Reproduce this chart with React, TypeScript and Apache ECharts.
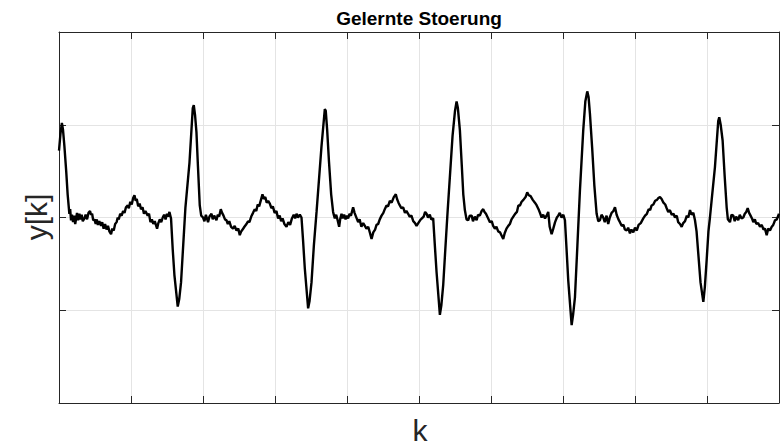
import React, { useEffect, useRef } from "react";
import * as echarts from "echarts";

const titleText = "Gelernte Stoerung";
const xLabel = "k";
const yLabel = "y[k]";
const xRange = [0, 1000];
const xStep = 100;
const yRange = [-2, 2];
const yStep = 1;

// [k, y[k]]
const disturbance: number[][] = [
  [0, 0.72], [2, 0.9], [4, 1.02], [5.5, 0.95], [7.5, 0.77], [10, 0.5], [12, 0.25], [14.4, 0.04], [15.5, 0.09], [16.7, -0.03],
  [18, 0.03], [19.5, -0.05], [21, 0.02], [22.5, -0.07], [23.6, -0.02], [25, 0.05], [26.5, -0.03], [28.3, 0.04], [30, -0.02], [31.5, 0.03],
  [33, -0.04], [35.3, -0.01], [37, 0.03], [39, -0.02], [41, 0.05], [43.1, 0.07], [44.5, 0.03], [46, 0.04], [47.5, -0.03], [49.2, -0.02],
  [51, -0.07], [52.5, -0.02], [54, -0.08], [56, -0.04], [58.4, -0.09], [60, -0.05], [62, -0.12], [64, -0.07], [66, -0.13], [68, -0.09],
  [70, -0.15], [72.3, -0.18], [74, -0.12], [76, -0.14], [78, -0.07], [80, -0.05], [81.6, 0.0], [83, -0.02], [85, 0.04], [87, 0.02],
  [89, 0.07], [91, 0.05], [93, 0.11], [95.5, 0.13], [97, 0.1], [99, 0.17], [101, 0.14], [103, 0.21], [104.8, 0.24], [106.5, 0.18],
  [108, 0.2], [110, 0.12], [112, 0.15], [113.9, 0.09], [116, 0.11], [118, 0.04], [120, 0.07], [123.2, 0.02], [125, 0.04], [127, -0.05],
  [129, -0.02], [131, -0.07], [133, -0.04], [136.2, -0.12], [138, -0.06], [140, -0.02], [142, -0.05], [144.1, 0.0], [146, 0.03], [148, -0.02],
  [150, 0.04], [151.5, 0.01], [153.4, 0.06], [155.6, -0.01], [158, -0.35], [160.3, -0.62], [164.9, -0.96], [167, -0.88], [169.5, -0.7], [172.5, -0.3],
  [175.6, 0.11], [181.2, 0.59], [185.8, 1.18], [187.2, 1.21], [189, 1.1], [190.9, 0.92], [193, 0.55], [195.5, 0.13], [197.5, 0.02], [200.1, 0.0],
  [202, -0.04], [204, 0.03], [207, -0.05], [209, 0.01], [211.8, 0.04], [213.5, -0.02], [215.5, 0.02], [218.7, -0.03], [220.5, 0.03], [222.5, 0.01],
  [224.7, 0.09], [226.5, 0.05], [228.5, 0.02], [230.5, -0.02], [232.6, -0.03], [234.5, -0.07], [236.5, -0.04], [239, -0.1], [241.8, -0.12], [244, -0.09],
  [246.5, -0.14], [249, -0.12], [251.1, -0.19], [253, -0.15], [255, -0.13], [257.5, -0.1], [260.4, -0.07], [262.5, -0.04], [264.5, -0.05], [267, 0.01],
  [269.5, 0.05], [271.9, 0.09], [274, 0.07], [276, 0.14], [278, 0.12], [280.5, 0.19], [282.6, 0.25], [284.5, 0.2], [286.5, 0.22], [288.5, 0.16],
  [290.5, 0.18], [292.8, 0.15], [295, 0.1], [297, 0.12], [299.5, 0.05], [302, 0.07], [304.3, -0.01], [306.5, 0.02], [308.5, -0.04], [310.5, -0.01],
  [313, -0.07], [316, -0.1], [318.5, -0.05], [321, -0.08], [323.5, -0.01], [326, 0.03], [328, -0.01], [329.9, 0.04], [332, 0.0], [334.5, 0.03],
  [336.8, 0.0], [339, -0.25], [341.4, -0.55], [346, -0.98], [348, -0.9], [350.7, -0.7], [354, -0.3], [357.7, 0.06], [364.6, 0.77], [369.2, 1.17],
  [370.5, 1.15], [372.4, 0.95], [375, 0.6], [378, 0.25], [380.7, 0.06], [382, 0.02], [383.1, -0.01], [385, 0.03], [387, -0.03], [389.1, -0.1],
  [390.5, -0.02], [392.4, 0.04], [394, -0.01], [396, 0.03], [398, -0.02], [400, 0.02], [401.6, -0.01], [403.5, 0.04], [405.5, 0.02], [408.5, 0.11],
  [410.5, 0.05], [412.5, 0.01], [415.5, -0.05], [417.5, -0.02], [420, -0.1], [422.5, -0.06], [424.8, -0.09], [427, -0.12], [429.5, -0.1], [432, -0.17],
  [434.1, -0.23], [436.5, -0.16], [439, -0.13], [441, -0.08], [443.3, -0.07], [445.5, -0.02], [448, 0.02], [450.5, 0.05], [452.5, 0.09], [454.9, 0.13],
  [457, 0.12], [459.5, 0.18], [462, 0.16], [465, 0.22], [467.8, 0.25], [469.5, 0.2], [471.5, 0.16], [473.4, 0.13], [475.5, 0.1], [478, 0.11],
  [480.5, 0.05], [482.5, 0.07], [484.9, 0.04], [487, 0.01], [489.5, 0.02], [492, -0.04], [494.5, -0.06], [496.6, -0.09], [499, -0.06], [501.5, -0.03],
  [504, -0.01], [506.5, 0.01], [508.5, 0.06], [510.5, 0.04], [512.5, 0.0], [515, 0.03], [517, -0.02], [519.7, -0.01], [522, -0.3], [524.4, -0.59],
  [529, -1.05], [531, -0.95], [533.6, -0.73], [536.5, -0.35], [539.7, 0.06], [546.6, 0.88], [550, 1.15], [552.2, 1.25], [554, 1.18], [556.8, 0.94],
  [559.5, 0.55], [561.5, 0.25], [563.7, 0.08], [566, -0.02], [568.3, -0.03], [570.5, 0.02], [573.1, 0.02], [575, -0.04], [577.5, 0.01], [580, -0.03],
  [582, 0.03], [584.5, 0.02], [587, 0.07], [589.2, 0.09], [591, 0.06], [593, 0.04], [596.1, -0.01], [598.5, -0.05], [601, -0.04], [603, -0.09],
  [605.4, -0.12], [607.5, -0.1], [610, -0.15], [612.5, -0.16], [615, -0.2], [617, -0.23], [619, -0.17], [621.5, -0.12], [624, -0.09], [626.2, -0.07],
  [628.5, -0.02], [631, 0.01], [633.5, 0.04], [636, 0.06], [638, 0.13], [640.2, 0.13], [642.5, 0.17], [645, 0.19], [648, 0.22], [650.3, 0.27],
  [652.5, 0.24], [655, 0.23], [658, 0.19], [661, 0.16], [663.5, 0.13], [666, 0.09], [668.5, 0.04], [670.3, 0.0], [672.5, 0.03], [675, -0.01],
  [677.2, 0.02], [679.5, 0.06], [681.5, -0.1], [684.2, -0.18], [686.5, -0.12], [689, -0.05], [691.5, 0.0], [693.4, 0.02], [695.5, 0.05], [698, 0.0],
  [700.5, 0.03], [702.7, -0.03], [705, -0.35], [707.3, -0.68], [712, -1.16], [714, -1.05], [716.6, -0.86], [720, -0.3], [723.5, 0.29], [728.1, 0.94],
  [731, 1.25], [733.7, 1.36], [735.5, 1.3], [737.4, 1.12], [740.5, 0.75], [743.5, 0.35], [746.7, 0.04], [749, -0.04], [751.3, -0.03], [753.5, 0.03],
  [755.9, 0.0], [758, -0.05], [760.5, 0.02], [762.8, -0.07], [765, 0.0], [767.5, 0.05], [770, 0.07], [772.2, 0.11], [774.5, 0.03], [777, -0.02],
  [779.1, -0.05], [781.5, -0.09], [784, -0.08], [786, -0.13], [788.4, -0.14], [790.5, -0.11], [793, -0.17], [795, -0.13], [797.6, -0.16], [800, -0.11],
  [802.5, -0.14], [805, -0.08], [808, -0.06], [811.5, -0.01], [814, 0.02], [816.5, 0.04], [819, 0.09], [821, 0.08], [823.1, 0.13], [825.5, 0.14],
  [828, 0.18], [830.5, 0.19], [832.5, 0.21], [834.7, 0.22], [837, 0.2], [839.5, 0.16], [842, 0.14], [844, 0.1], [846.2, 0.06], [848.5, 0.08],
  [851, 0.03], [853.5, 0.04], [855.5, 0.0], [858, 0.02], [860, -0.05], [862.5, -0.07], [864.8, -0.1], [867, -0.06], [869.5, -0.04], [872, 0.02],
  [874, 0.0], [876.4, 0.08], [878.5, 0.03], [881, 0.05], [883.3, -0.03], [885.5, -0.15], [887.9, -0.39], [891, -0.7], [894.9, -0.91], [897, -0.75],
  [899.6, -0.45], [902, -0.15], [904.1, 0.0], [906.5, 0.19], [911, 0.54], [915.6, 1.04], [917, 1.08], [919, 1.0], [921.7, 0.83], [924.5, 0.45],
  [927.3, 0.11], [929, -0.02], [931.9, -0.05], [934, 0.03], [936.5, 0.02], [938.5, -0.04], [940.5, 0.01], [943.4, -0.03], [945.5, 0.03], [948, -0.01],
  [950.4, 0.0], [952.5, 0.04], [954.5, 0.06], [956.5, 0.1], [958.5, 0.05], [960.5, 0.02], [962.5, -0.01], [964.3, -0.05], [966.5, -0.02], [968.5, -0.07],
  [971, -0.06], [973.6, -0.1], [976, -0.08], [978.5, -0.13], [980.5, -0.12], [982.9, -0.19], [985, -0.12], [987.5, -0.14], [989.9, -0.1], [992, -0.08],
  [994.5, -0.03], [997, -0.02], [1000, 0.04],
];

const AX = "#262626";
const GRIDC = "#e4e4e4";

function xAxisDef(position: "bottom" | "top", withGrid: boolean) {
  return {
    type: "value",
    position,
    min: xRange[0],
    max: xRange[1],
    interval: xStep,
    axisLine: { show: true, onZero: false, lineStyle: { color: AX, width: 1 } },
    axisTick: { show: true, inside: true, length: 7, lineStyle: { color: AX, width: 1 } },
    axisLabel: { show: false },
    splitLine: { show: withGrid, lineStyle: { color: GRIDC, width: 1 } },
  };
}

function yAxisDef(position: "left" | "right", withGrid: boolean) {
  return {
    type: "value",
    position,
    min: yRange[0],
    max: yRange[1],
    interval: yStep,
    axisLine: { show: true, onZero: false, lineStyle: { color: AX, width: 1 } },
    axisTick: { show: true, inside: true, length: 7, lineStyle: { color: AX, width: 1 } },
    axisLabel: { show: false },
    splitLine: { show: withGrid, lineStyle: { color: GRIDC, width: 1 } },
  };
}

export default function App() {
  const ref = useRef<HTMLDivElement>(null);
  useEffect(() => {
    if (!ref.current) return;
    const chart = echarts.init(ref.current, undefined, { renderer: "svg" });
    chart.setOption({
      animation: false,
      backgroundColor: "#ffffff",
      grid: { left: 59, top: 32, width: 720, height: 371, containLabel: false },
      xAxis: [xAxisDef("bottom", true), xAxisDef("top", false)],
      yAxis: [yAxisDef("left", true), yAxisDef("right", false)],
      graphic: [
        {
          type: "text",
          x: 419,
          y: 18,
          style: {
            text: titleText,
            font: "bold 19px 'Liberation Sans', Arial, sans-serif",
            fill: "#000",
            align: "center",
            verticalAlign: "middle",
          },
        },
        {
          type: "text",
          x: 420,
          y: 430,
          style: {
            text: xLabel,
            font: "30px 'Liberation Sans', Arial, sans-serif",
            fill: AX,
            align: "center",
            verticalAlign: "middle",
          },
        },
        {
          type: "text",
          x: 36,
          y: 217,
          rotation: Math.PI / 2,
          style: {
            text: yLabel,
            font: "30px 'Liberation Sans', Arial, sans-serif",
            fill: AX,
            align: "center",
            verticalAlign: "middle",
          },
        },
      ],
      series: [
        {
          type: "line",
          data: disturbance,
          xAxisIndex: 0,
          yAxisIndex: 0,
          showSymbol: false,
          symbol: "none",
          lineStyle: { color: "#000", width: 2.4 },
          clip: true,
        },
      ],
    });
    return () => chart.dispose();
  }, []);
  return (
    <div
      ref={ref}
      style={{ position: "fixed", left: 0, top: 0, width: 782, height: 445, background: "#fff" }}
    />
  );
}
